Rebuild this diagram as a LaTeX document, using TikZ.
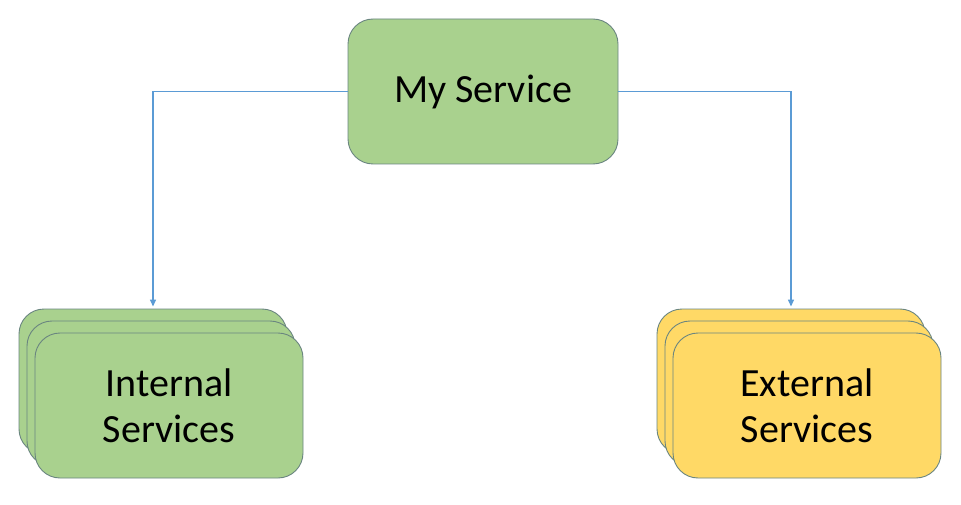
\documentclass[tikz,border=0pt]{standalone}
\usepackage{fontspec}
\setmainfont{Carlito}
\usetikzlibrary{arrows.meta,positioning}
\definecolor{leaf}{HTML}{A9D18E}
\definecolor{sun}{HTML}{FFD966}
\definecolor{edge}{HTML}{6A8580}
\definecolor{wire}{HTML}{5B9BD5}
\tikzset{
  svcbox/.style={draw=edge, line width=0.9pt, rounded corners=25pt, inner sep=0pt, align=center,
    minimum width=268pt, minimum height=145pt, font=\fontsize{40}{46}\selectfont},
  link/.style={-{Triangle[length=7pt,width=6pt]}, line width=1.4pt, wire, shorten >=2pt},
}

\begin{document}
\begin{tikzpicture}[x=1pt,y=-1pt]
        \useasboundingbox (0,0) rectangle (961,505);
        \node[svcbox, fill=leaf, minimum width=270pt] (mysvc) at (483,91.5) {My Service};
        % stacked copies behind the front boxes
        \foreach \k in {0,1} {
          \node[svcbox, fill=leaf] (int\k) at (153+8*\k,381.5+12*\k) {};
          \node[svcbox, fill=sun] (ext\k) at (791+8*\k,381.5+12*\k) {};
        }
        \node[svcbox, fill=leaf] (int2) at (169,405.5) {Internal\\Services};
        \node[svcbox, fill=sun] (ext2) at (807,405.5) {External\\Services};
        \draw[link] (mysvc.west) -| (int0.north);
        \draw[link] (mysvc.east) -| (ext0.north);
      \end{tikzpicture}
\end{document}
